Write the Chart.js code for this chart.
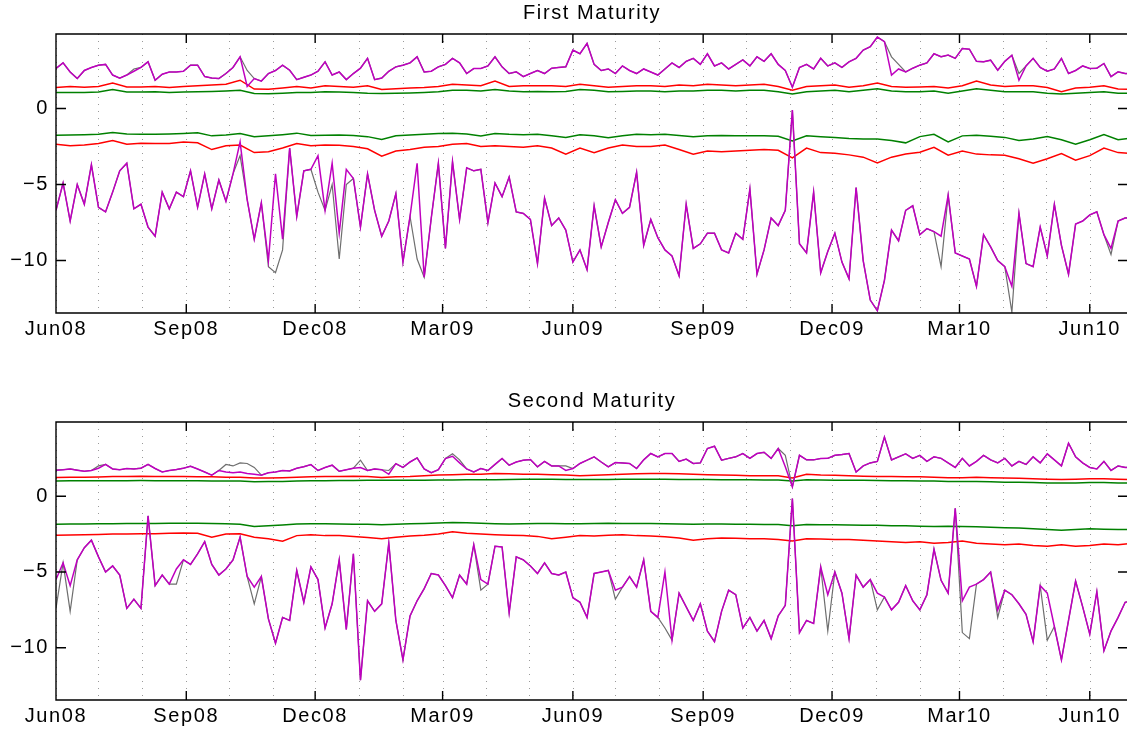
<!DOCTYPE html>
<html>
<head>
<meta charset="utf-8">
<script src="https://cdn.jsdelivr.net/npm/chart.js@4"></script>
<style>
html, body { margin: 0; padding: 0; background: #fff; overflow: hidden; }
canvas { position: absolute; left: 0; }
#top { top: 0; }
#bottom { top: 388px; }
</style>
</head>
<body>
<canvas id="top" width="1130" height="345"></canvas>
<canvas id="bottom" width="1130" height="344"></canvas>
<script>
"use strict"

// days counted from 1 Jun 2008
const monthDays = [0, 30, 61, 92, 122, 153, 183, 214, 245, 273, 304, 334, 365, 395, 426, 457, 487, 518, 548, 579, 610, 638, 669, 699, 730]
const quarterDays = [0, 92, 183, 273, 365, 457, 548, 638, 730]
const quarterLabels = ["Jun08", "Sep08", "Dec08", "Mar09", "Jun09", "Sep09", "Dec09", "Mar10", "Jun10"]
const yTicks = [-10, -5, 0]

// noisy series are read every 5 days, smooth ones every 10 days
const noisyDays = Array.from({length: 153}, (_, i) => i * 5)
const smoothDays = Array.from({length: 77}, (_, i) => i * 10)

// ---- First Maturity ----
const first_upper_m = [2.63, 3.0, 2.4, 1.97, 2.5, 2.7, 2.85, 2.9, 2.2, 2.0,
  2.2, 2.45, 2.7, 3.07, 1.86, 2.25, 2.4, 2.4, 2.45, 2.85,
  2.85, 2.1, 2.0, 1.97, 2.3, 2.7, 3.4, 1.45, 1.97, 1.8,
  2.3, 2.5, 2.85, 2.52, 1.9, 2.05, 2.2, 2.45, 3.07, 2.2,
  2.4, 1.9, 2.3, 2.65, 3.3, 1.9, 2.0, 2.45, 2.74, 2.85,
  3.0, 3.4, 2.4, 2.45, 2.74, 2.9, 3.3, 3.0, 2.3, 2.63,
  2.63, 2.8, 3.4, 2.74, 2.3, 2.41, 2.1, 2.3, 2.5, 2.3,
  2.65, 2.7, 2.74, 3.84, 3.6, 4.28, 2.9, 2.5, 2.6, 2.3,
  2.8, 2.5, 2.3, 2.6, 2.4, 2.2, 2.6, 3.0, 2.7, 3.1,
  3.3, 2.9, 3.6, 2.8, 3.0, 2.6, 2.9, 3.2, 2.8, 3.4,
  3.1, 3.6, 2.9, 2.5, 1.4, 2.7, 2.9, 2.6, 3.3, 2.8,
  3.0, 2.7, 3.07, 3.3, 3.84, 4.06, 4.7, 4.4, 2.2, 2.6,
  2.4, 2.65, 2.85, 3.0, 3.6, 3.4, 3.51, 3.3, 3.95, 3.9,
  3.1, 3.07, 3.18, 2.52, 3.1, 3.5, 1.86, 2.8, 3.3, 2.7,
  2.45, 2.6, 3.29, 2.3, 2.5, 2.8, 2.63, 2.65, 2.96, 2.1,
  2.41, 2.3, 2.3]
const first_upper_g = [2.63, 3.0, 2.4, 1.97, 2.5, 2.7, 2.85, 2.9, 2.2, 2.0,
  2.2, 2.6, 2.7, 3.07, 1.86, 2.25, 2.4, 2.4, 2.45, 2.85,
  2.85, 2.1, 2.0, 1.97, 2.3, 2.7, 3.4, 2.5, 1.97, 1.8,
  2.3, 2.5, 2.85, 2.52, 1.9, 2.05, 2.2, 2.45, 3.07, 2.2,
  2.4, 1.9, 2.3, 2.65, 3.3, 1.9, 2.0, 2.45, 2.74, 2.85,
  3.0, 3.4, 2.4, 2.45, 2.74, 2.9, 3.3, 3.0, 2.3, 2.63,
  2.63, 2.8, 3.4, 2.74, 2.3, 2.41, 2.1, 2.3, 2.5, 2.3,
  2.65, 2.7, 2.74, 3.84, 3.6, 4.28, 2.9, 2.5, 2.6, 2.3,
  2.8, 2.5, 2.3, 2.6, 2.4, 2.2, 2.6, 3.0, 2.7, 3.1,
  3.3, 2.9, 3.6, 2.8, 3.0, 2.6, 2.9, 3.2, 2.8, 3.4,
  3.1, 3.6, 2.9, 2.5, 1.4, 2.7, 2.9, 2.6, 3.3, 2.8,
  3.0, 2.7, 3.07, 3.3, 3.84, 4.06, 4.7, 4.4, 3.4, 2.9,
  2.4, 2.65, 2.85, 3.0, 3.6, 3.4, 3.51, 3.3, 3.95, 3.9,
  3.1, 3.07, 3.18, 2.52, 3.1, 3.5, 2.3, 2.8, 3.3, 2.7,
  2.45, 2.6, 3.29, 2.3, 2.5, 2.8, 2.63, 2.65, 2.96, 2.1,
  2.41, 2.3, 2.3]
const first_lower_m = [-6.7, -4.9, -7.4, -5.0, -6.3, -3.7, -6.5, -6.8, -5.5, -4.1,
  -3.6, -6.6, -6.3, -7.8, -8.4, -5.5, -6.6, -5.5, -5.8, -4.1,
  -6.5, -4.3, -6.6, -4.7, -6.1, -4.3, -2.2, -6.0, -8.6, -6.2,
  -10.0, -4.3, -8.6, -2.6, -7.1, -4.1, -4.0, -3.1, -6.7, -3.6,
  -8.2, -4.0, -4.6, -7.8, -4.3, -6.7, -8.4, -7.4, -5.6, -10.1,
  -7.1, -3.6, -11.1, -7.2, -3.6, -9.2, -3.5, -7.3, -3.9, -4.1,
  -4.0, -7.5, -4.9, -5.8, -4.5, -6.8, -6.9, -7.3, -10.2, -5.9,
  -7.7, -7.2, -8.0, -10.1, -9.3, -10.6, -6.4, -9.1, -7.5, -6.0,
  -6.9, -6.5, -4.2, -9.0, -7.3, -8.5, -9.3, -9.7, -11.0, -6.3,
  -9.2, -8.9, -8.2, -8.2, -9.3, -9.5, -8.2, -8.6, -5.3, -10.9,
  -9.3, -7.2, -7.7, -6.7, -0.1, -8.9, -9.5, -5.5, -10.8, -9.4,
  -8.2, -10.1, -11.2, -5.2, -10.0, -12.6, -13.3, -11.3, -8.0, -8.7,
  -6.7, -6.4, -8.3, -7.9, -8.1, -8.4, -5.7, -9.5, -9.7, -9.9,
  -11.7, -8.3, -9.1, -10.0, -10.4, -11.7, -6.9, -10.2, -10.4, -7.8,
  -9.7, -6.3, -9.0, -10.9, -7.6, -7.4, -7.0, -6.8, -8.3, -9.2,
  -7.4, -7.2, -7.2]
const first_lower_g = [-6.7, -4.9, -7.4, -5.0, -6.3, -3.7, -6.5, -6.8, -5.5, -4.1,
  -3.6, -6.6, -6.3, -7.8, -8.4, -5.5, -6.6, -5.5, -5.8, -4.1,
  -6.5, -4.3, -6.6, -4.7, -6.1, -4.3, -3.1, -6.0, -8.6, -6.2,
  -10.4, -10.8, -9.3, -2.6, -7.1, -4.1, -4.0, -5.5, -6.7, -5.0,
  -9.9, -5.0, -4.6, -7.8, -4.3, -6.7, -8.4, -7.4, -5.6, -10.1,
  -7.1, -9.9, -11.1, -7.2, -3.6, -9.2, -3.5, -7.3, -3.9, -4.1,
  -4.0, -7.5, -4.9, -5.8, -4.5, -6.8, -6.9, -7.3, -10.2, -5.9,
  -7.7, -7.2, -8.0, -10.1, -9.3, -10.6, -6.4, -9.1, -7.5, -6.0,
  -6.9, -6.5, -4.2, -9.0, -7.3, -8.5, -9.3, -9.7, -11.0, -6.3,
  -9.2, -8.9, -8.2, -8.2, -9.3, -9.5, -8.2, -8.6, -5.3, -10.9,
  -9.3, -7.2, -7.7, -6.7, -0.1, -8.9, -9.5, -5.5, -10.8, -9.4,
  -8.2, -10.1, -11.2, -5.2, -10.0, -12.6, -13.3, -11.3, -8.0, -8.7,
  -6.7, -6.4, -8.3, -7.9, -8.1, -10.4, -5.7, -9.5, -9.7, -9.9,
  -11.7, -8.3, -9.1, -10.0, -10.4, -13.4, -6.9, -10.2, -10.4, -7.8,
  -9.7, -6.3, -9.0, -10.9, -7.6, -7.4, -7.0, -6.8, -8.3, -9.6,
  -7.4, -7.2, -7.2]
const first_red_up = [1.38, 1.45, 1.4, 1.45, 1.68, 1.42, 1.42, 1.45, 1.38, 1.45,
  1.5, 1.55, 1.6, 1.86, 1.28, 1.27, 1.35, 1.45, 1.35, 1.5,
  1.45, 1.4, 1.5, 1.25, 1.3, 1.35, 1.38, 1.45, 1.6, 1.55,
  1.5, 1.8, 1.45, 1.5, 1.5, 1.5, 1.45, 1.6, 1.5, 1.4,
  1.45, 1.5, 1.5, 1.45, 1.55, 1.5, 1.6, 1.55, 1.5, 1.55,
  1.6, 1.45, 1.2, 1.45, 1.5, 1.55, 1.4, 1.5, 1.68, 1.45,
  1.4, 1.42, 1.45, 1.35, 1.5, 1.8, 1.55, 1.45, 1.5, 1.5,
  1.38, 1.1, 1.35, 1.4, 1.5, 1.28, 1.25]
const first_green_up = [1.05, 1.05, 1.05, 1.08, 1.25, 1.08, 1.08, 1.1, 1.05, 1.08,
  1.1, 1.12, 1.15, 1.2, 0.98, 0.97, 1.0, 1.05, 1.05, 1.1,
  1.08, 1.05, 1.0, 0.98, 1.0, 1.02, 1.05, 1.1, 1.2, 1.2,
  1.15, 1.25, 1.15, 1.1, 1.12, 1.1, 1.12, 1.25, 1.2, 1.1,
  1.12, 1.15, 1.15, 1.1, 1.15, 1.15, 1.2, 1.2, 1.15, 1.2,
  1.2, 1.1, 0.95, 1.1, 1.15, 1.2, 1.1, 1.2, 1.3, 1.15,
  1.1, 1.1, 1.15, 1.0, 1.15, 1.3, 1.2, 1.1, 1.1, 1.1,
  1.0, 0.95, 1.0, 1.05, 1.1, 1.0, 1.0]
const first_green_low = [-1.76, -1.75, -1.72, -1.7, -1.58, -1.68, -1.7, -1.7, -1.68, -1.65,
  -1.6, -1.8, -1.75, -1.64, -1.86, -1.8, -1.72, -1.62, -1.78, -1.76,
  -1.74, -1.78, -1.85, -2.04, -1.8, -1.75, -1.7, -1.64, -1.62, -1.68,
  -1.8, -1.64, -1.7, -1.72, -1.7, -1.8, -1.9, -1.72, -1.8, -1.93,
  -1.8, -1.7, -1.72, -1.7, -1.78, -1.86, -1.8, -1.78, -1.8, -1.8,
  -1.8, -1.82, -2.13, -1.8, -1.85, -1.9, -1.97, -2.0, -2.0, -2.1,
  -2.26, -1.85, -1.7, -2.2, -1.8, -1.76, -1.82, -1.9, -2.1, -2.0,
  -1.85, -2.05, -2.35, -2.05, -1.72, -2.05, -1.93]
const first_red_low = [-2.35, -2.45, -2.4, -2.3, -2.1, -2.35, -2.28, -2.3, -2.3, -2.2,
  -2.25, -2.7, -2.45, -2.4, -2.9, -2.85, -2.6, -2.3, -2.45, -2.4,
  -2.42, -2.5, -2.65, -3.14, -2.8, -2.7, -2.55, -2.5, -2.35, -2.3,
  -2.5, -2.45, -2.5, -2.55, -2.45, -2.6, -3.0, -2.6, -2.9, -2.6,
  -2.4, -2.5, -2.5, -2.4, -2.7, -3.0, -2.8, -2.85, -2.8, -2.75,
  -2.7, -2.75, -3.25, -2.6, -2.9, -2.95, -3.05, -3.2, -3.58, -3.2,
  -3.0, -2.88, -2.55, -3.07, -2.8, -3.0, -3.05, -3.07, -3.3, -3.6,
  -3.3, -2.96, -3.4, -3.1, -2.6, -2.9, -2.96]

// ---- Second Maturity ----
const second_upper_m = [1.72, 1.75, 1.8, 1.72, 1.65, 1.7, 1.85, 2.1, 1.8, 1.75,
  1.83, 1.8, 1.85, 2.1, 1.83, 1.6, 1.7, 1.76, 1.85, 1.98,
  1.8, 1.6, 1.39, 1.7, 1.6, 1.55, 1.6, 1.5, 1.45, 1.39,
  1.55, 1.6, 1.7, 1.67, 1.85, 1.95, 2.09, 1.7, 1.9, 2.05,
  1.65, 1.75, 1.85, 1.9, 1.7, 1.8, 1.75, 1.45, 2.15, 1.9,
  2.26, 2.53, 1.8, 1.55, 1.75, 2.49, 2.64, 2.2, 1.8, 1.6,
  1.83, 1.7, 2.1, 2.49, 2.05, 2.26, 2.38, 2.42, 1.94, 2.3,
  2.0, 2.0, 1.7, 1.83, 2.16, 2.38, 2.6, 2.26, 1.94, 2.22,
  2.2, 2.16, 1.83, 2.4, 2.82, 2.6, 2.82, 2.82, 2.3, 2.45,
  2.16, 2.2, 3.15, 3.3, 2.38, 2.5, 2.6, 2.82, 2.5, 2.82,
  2.9, 2.5, 3.15, 1.94, 0.62, 2.7, 2.4, 2.4, 2.49, 2.5,
  2.7, 2.75, 2.82, 1.6, 2.0, 2.2, 2.3, 3.9, 2.4, 2.6,
  2.8, 2.5, 2.7, 2.3, 2.6, 2.5, 2.2, 1.9, 2.5, 2.0,
  2.3, 2.7, 2.4, 2.2, 2.5, 2.0, 2.3, 2.1, 2.6, 2.2,
  2.8, 2.4, 2.0, 3.5, 2.6, 2.2, 1.9, 1.8, 2.3, 1.7,
  2.0, 1.9, 1.9]
const second_upper_g = [1.72, 1.75, 1.8, 1.72, 1.65, 1.7, 2.0, 2.1, 1.8, 1.75,
  1.83, 1.8, 1.85, 2.1, 1.83, 1.6, 1.7, 1.76, 1.85, 1.98,
  1.8, 1.6, 1.39, 1.7, 2.1, 2.0, 2.2, 2.16, 1.9, 1.39,
  1.55, 1.6, 1.7, 1.67, 1.85, 1.95, 2.09, 1.7, 1.9, 2.05,
  1.65, 1.75, 1.85, 2.38, 1.7, 1.8, 1.75, 1.7, 2.15, 1.9,
  2.26, 2.53, 1.8, 1.55, 1.75, 2.49, 2.8, 2.4, 1.8, 1.6,
  1.83, 1.7, 2.1, 2.49, 2.05, 2.26, 2.38, 2.42, 1.94, 2.3,
  2.0, 2.0, 2.0, 1.83, 2.16, 2.38, 2.6, 2.26, 1.94, 2.22,
  2.2, 2.16, 1.83, 2.4, 2.82, 2.6, 2.82, 2.82, 2.3, 2.45,
  2.16, 2.2, 3.15, 3.3, 2.38, 2.5, 2.6, 2.82, 2.5, 2.82,
  2.9, 2.5, 3.15, 2.7, 0.62, 2.7, 2.4, 2.4, 2.49, 2.5,
  2.7, 2.75, 2.82, 1.6, 2.0, 2.2, 2.3, 3.9, 2.4, 2.6,
  2.8, 2.5, 2.7, 2.3, 2.6, 2.5, 2.2, 1.9, 2.5, 2.0,
  2.3, 2.7, 2.4, 2.2, 2.5, 2.0, 2.3, 2.1, 2.6, 2.2,
  2.8, 2.4, 2.0, 3.5, 2.6, 2.2, 1.9, 1.8, 2.3, 1.7,
  2.0, 1.9, 1.9]
const second_lower_m = [-5.5, -4.4, -5.9, -4.2, -3.4, -2.9, -4.0, -5.0, -4.6, -5.2,
  -7.4, -6.8, -7.4, -1.3, -5.9, -5.2, -5.8, -4.8, -4.2, -4.5,
  -3.8, -3.0, -4.5, -5.2, -4.8, -4.2, -2.7, -5.3, -6.0, -5.3,
  -8.1, -9.7, -8.0, -8.2, -4.9, -7.0, -4.67, -5.5, -8.7, -7.1,
  -4.2, -8.8, -3.8, -12.15, -6.9, -7.6, -7.1, -3.1, -8.2, -10.8,
  -7.9, -6.9, -6.1, -5.1, -5.2, -5.9, -6.7, -5.2, -5.8, -3.2,
  -5.5, -5.8, -3.3, -3.35, -7.7, -4.0, -4.2, -4.6, -5.1, -4.4,
  -5.1, -5.2, -5.0, -6.7, -7.0, -8.0, -5.1, -5.0, -4.9, -6.2,
  -6.0, -5.3, -6.0, -4.2, -7.6, -8.0, -5.0, -9.5, -6.4, -7.3,
  -8.2, -7.1, -8.9, -9.6, -7.6, -6.2, -6.5, -8.7, -8.0, -8.9,
  -8.2, -9.4, -7.9, -7.2, -0.15, -9.0, -8.2, -8.4, -4.67, -6.5,
  -5.0, -6.4, -9.4, -5.2, -6.0, -5.5, -6.4, -6.65, -7.5, -7.0,
  -5.9, -6.9, -7.5, -6.5, -3.5, -5.55, -6.4, -0.8, -6.9, -6.0,
  -5.8, -5.5, -5.0, -7.5, -6.2, -6.5, -7.1, -7.8, -9.6, -5.9,
  -6.4, -8.6, -10.8, -8.2, -5.6, -7.3, -9.1, -6.3, -10.2, -8.9,
  -8.0, -7.0, -6.9]
const second_lower_g = [-7.4, -4.4, -7.6, -4.2, -3.4, -2.9, -4.0, -5.0, -4.6, -5.2,
  -7.4, -6.8, -7.4, -1.3, -5.9, -5.2, -5.8, -5.8, -4.2, -4.5,
  -3.8, -3.0, -4.5, -5.2, -4.8, -4.2, -2.7, -5.3, -7.1, -5.3,
  -8.1, -9.7, -8.0, -8.2, -4.9, -7.0, -4.67, -5.5, -8.7, -7.1,
  -4.2, -8.8, -3.8, -12.15, -6.9, -7.6, -7.1, -3.1, -8.2, -10.8,
  -7.9, -6.9, -6.1, -5.1, -5.2, -5.9, -6.7, -5.2, -5.8, -3.2,
  -6.2, -5.8, -3.3, -3.35, -7.7, -4.0, -4.2, -4.6, -5.1, -4.4,
  -5.1, -5.2, -5.0, -6.7, -7.0, -8.0, -5.1, -5.0, -4.9, -6.8,
  -6.0, -5.3, -6.0, -4.2, -7.6, -8.0, -8.7, -9.5, -6.4, -7.3,
  -8.2, -7.1, -8.9, -9.6, -7.6, -6.2, -6.5, -8.7, -8.0, -8.9,
  -8.2, -9.4, -7.9, -7.2, -0.15, -9.0, -8.2, -8.4, -4.67, -8.9,
  -5.0, -6.4, -9.4, -5.2, -6.0, -5.5, -7.5, -6.65, -7.5, -7.0,
  -5.9, -6.9, -7.5, -6.5, -3.5, -5.55, -6.4, -0.8, -9.0, -9.4,
  -5.8, -5.5, -5.0, -8.0, -6.2, -6.5, -7.1, -7.8, -9.6, -5.9,
  -9.5, -8.6, -10.8, -8.2, -5.6, -7.3, -9.1, -6.3, -10.2, -8.9,
  -8.0, -7.0, -6.9]
const second_red_up = [1.23, 1.25, 1.25, 1.27, 1.3, 1.3, 1.32, 1.3, 1.3, 1.3,
  1.28, 1.28, 1.25, 1.25, 1.2, 1.2, 1.22, 1.25, 1.28, 1.3,
  1.3, 1.32, 1.3, 1.24, 1.28, 1.3, 1.35, 1.4, 1.42, 1.45,
  1.45, 1.5, 1.48, 1.45, 1.45, 1.42, 1.4, 1.35, 1.38, 1.42,
  1.45, 1.48, 1.5, 1.5, 1.48, 1.45, 1.42, 1.4, 1.38, 1.36,
  1.35, 1.35, 1.2, 1.45, 1.4, 1.38, 1.35, 1.32, 1.3, 1.3,
  1.28, 1.28, 1.25, 1.22, 1.22, 1.25, 1.22, 1.2, 1.18, 1.15,
  1.12, 1.1, 1.12, 1.15, 1.15, 1.12, 1.1]
const second_green_up = [1.01, 1.02, 1.02, 1.03, 1.03, 1.03, 1.04, 1.03, 1.03, 1.02,
  1.02, 1.0, 1.0, 1.0, 0.95, 0.97, 0.98, 1.0, 1.02, 1.03,
  1.04, 1.04, 1.05, 1.05, 1.06, 1.06, 1.06, 1.07, 1.07, 1.08,
  1.08, 1.08, 1.1, 1.12, 1.12, 1.12, 1.1, 1.1, 1.1, 1.11,
  1.12, 1.12, 1.12, 1.12, 1.1, 1.1, 1.1, 1.08, 1.08, 1.08,
  1.07, 1.07, 1.0, 1.08, 1.07, 1.06, 1.06, 1.05, 1.04, 1.03,
  1.02, 1.0, 1.0, 0.98, 0.98, 0.97, 0.95, 0.93, 0.92, 0.9,
  0.88, 0.87, 0.88, 0.9, 0.9, 0.88, 0.87]
const second_green_low = [-1.85, -1.84, -1.83, -1.82, -1.82, -1.8, -1.8, -1.8, -1.79, -1.78,
  -1.78, -1.8, -1.82, -1.85, -2.0, -1.95, -1.9, -1.84, -1.82, -1.82,
  -1.84, -1.85, -1.85, -1.88, -1.85, -1.82, -1.8, -1.76, -1.73, -1.75,
  -1.78, -1.82, -1.84, -1.82, -1.8, -1.8, -1.82, -1.82, -1.8, -1.78,
  -1.8, -1.8, -1.8, -1.82, -1.84, -1.85, -1.84, -1.83, -1.85, -1.85,
  -1.86, -1.86, -1.95, -1.86, -1.88, -1.88, -1.9, -1.92, -1.92, -1.95,
  -1.95, -1.98, -2.0, -1.98, -2.0, -2.02, -2.05, -2.08, -2.1, -2.15,
  -2.2, -2.25, -2.2, -2.15, -2.18, -2.2, -2.2]
const second_red_low = [-2.58, -2.56, -2.55, -2.52, -2.5, -2.5, -2.48, -2.48, -2.45, -2.42,
  -2.45, -2.7, -2.5, -2.48, -2.7, -2.8, -2.97, -2.6, -2.55, -2.6,
  -2.6, -2.65, -2.72, -2.8, -2.7, -2.62, -2.58, -2.5, -2.35, -2.45,
  -2.5, -2.55, -2.58, -2.6, -2.65, -2.8, -2.7, -2.6, -2.62, -2.58,
  -2.55, -2.6, -2.62, -2.68, -2.75, -2.9, -2.8, -2.75, -2.78, -2.8,
  -2.8, -2.85, -2.95, -2.8, -2.82, -2.85, -2.85, -2.9, -2.95, -3.0,
  -3.05, -3.0, -3.1, -3.05, -2.95, -3.1, -3.15, -3.2, -3.15, -3.25,
  -3.3, -3.2, -3.3, -3.25, -3.15, -3.2, -3.1]

const MAGENTA = "#bf00bf", GRAY = "#6e6e6e", RED = "#ff0000", GREEN = "#008000"
const FONT = {family: "'Liberation Sans', Arial, sans-serif", size: 20}

const pts = (xs, ys) => ys.map((y, i) => ({x: xs[i], y: y}))
const line = (xs, ys, color, w) => ({
  data: pts(xs, ys), borderColor: color, borderWidth: w,
  pointRadius: 0, tension: 0, fill: false
})

// frame, inward ticks, monthly dotted grid and the title, drawn like the matlab axes
const framePlugin = {
  id: "frame",
  beforeDraw: chart => { chart.ctx.letterSpacing = "1.6px" },
  beforeDatasetsDraw: chart => {
    const {ctx, chartArea: a, scales: {x}} = chart
    ctx.save()
    ctx.strokeStyle = "#9a9a9a"
    ctx.lineWidth = 1
    ctx.setLineDash([1, 6])
    ctx.beginPath()
    monthDays.forEach(d => {
      const px = Math.round(x.getPixelForValue(d)) + 0.5
      ctx.moveTo(px, a.top); ctx.lineTo(px, a.bottom)
    })
    ctx.stroke()
    ctx.restore()
  },
  afterDatasetsDraw: (chart, args, opts) => {
    const {ctx, chartArea: a, scales: {x, y}} = chart
    ctx.save()
    ctx.strokeStyle = "#000"
    ctx.lineWidth = 1.4
    ctx.beginPath()
    ctx.rect(a.left, a.top, a.right - a.left, a.bottom - a.top)
    quarterDays.forEach(d => {
      const px = x.getPixelForValue(d)
      ctx.moveTo(px, a.top); ctx.lineTo(px, a.top + 9)
      ctx.moveTo(px, a.bottom); ctx.lineTo(px, a.bottom - 9)
    })
    yTicks.forEach(v => {
      const py = y.getPixelForValue(v)
      ctx.moveTo(a.left, py); ctx.lineTo(a.left + 10, py)
      ctx.moveTo(a.right, py); ctx.lineTo(a.right - 10, py)
    })
    ctx.stroke()
    ctx.fillStyle = "#000"
    ctx.font = "20px 'Liberation Sans', Arial, sans-serif"
    ctx.textAlign = "center"
    ctx.textBaseline = "alphabetic"
    ctx.fillText(opts.title, (a.left + a.right) / 2, opts.titleY)
    ctx.restore()
  }
}

function makeChart(id, title, upM, upG, lowM, lowG, redUp, greenUp, greenLow, redLow) {
  new Chart(document.getElementById(id), {
    type: "line",
    data: {
      datasets: [
        line(noisyDays, upM, MAGENTA, 1.5),
        line(noisyDays, lowM, MAGENTA, 1.5),
        line(noisyDays, upG, GRAY, 1.2),
        line(noisyDays, lowG, GRAY, 1.2),
        line(smoothDays, redUp, RED, 1.5),
        line(smoothDays, greenUp, GREEN, 1.5),
        line(smoothDays, greenLow, GREEN, 1.5),
        line(smoothDays, redLow, RED, 1.5)
      ]
    },
    options: {
      responsive: false,
      animation: false,
      devicePixelRatio: 1,
      layout: {padding: {top: 34, right: 2, left: 0, bottom: 0}},
      plugins: {
        legend: {display: false},
        tooltip: {enabled: false},
        frame: {title: title, titleY: 19}
      },
      scales: {
        x: {
          type: "linear", min: 0, max: 757,
          grid: {display: false, drawTicks: false},
          border: {display: false},
          afterBuildTicks: sc => { sc.ticks = quarterDays.map(v => ({value: v})) },
          afterFit: sc => { sc.height = 32 },
          ticks: {
            autoSkip: false, maxRotation: 0, minRotation: 0, padding: 4,
            color: "#000", font: FONT,
            callback: (v, i) => quarterLabels[i]
          }
        },
        y: {
          min: -13.45, max: 4.9,
          grid: {display: false, drawTicks: false},
          border: {display: false},
          afterBuildTicks: sc => { sc.ticks = yTicks.map(v => ({value: v})) },
          afterFit: sc => { sc.width = 56 },
          ticks: {
            padding: 7, color: "#000", font: FONT,
            callback: v => v < 0 ? "\u2212" + Math.abs(v) : String(v)
          }
        }
      }
    },
    plugins: [framePlugin]
  })
}

makeChart("top", "First Maturity", first_upper_m, first_upper_g, first_lower_m, first_lower_g,
  first_red_up, first_green_up, first_green_low, first_red_low)
makeChart("bottom", "Second Maturity", second_upper_m, second_upper_g, second_lower_m, second_lower_g,
  second_red_up, second_green_up, second_green_low, second_red_low)
</script>
</body>
</html>
